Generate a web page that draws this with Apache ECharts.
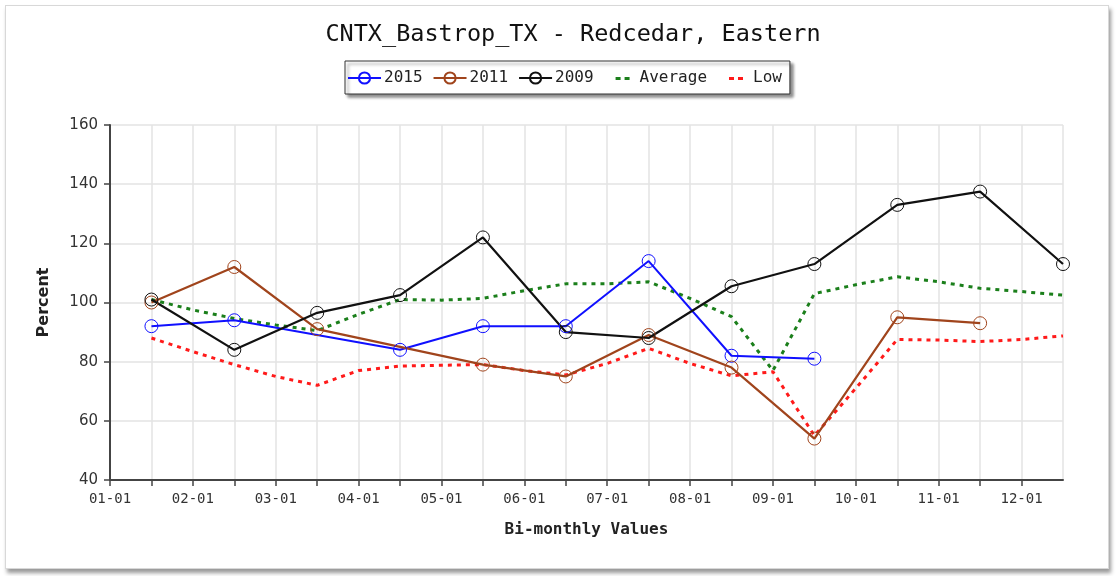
<!DOCTYPE html>
<html>
<head>
<meta charset="utf-8">
<script src="https://cdn.jsdelivr.net/npm/echarts@6/dist/echarts.min.js"></script>
<style>
  body { margin:0; background:#fff; }
  #frame { position:absolute; left:5px; top:5px; width:1102px; height:562px;
           border:1px solid #d8d8d8; box-shadow:2px 4px 4px #999; background:#fff; }
  #chart { position:absolute; left:0; top:0; width:1116px; height:576px; }
</style>
</head>
<body>
<div id="frame"></div>
<div id="chart"></div>
<script>
// tick labels on the month starts (x = 0,2,4..22 half-months)
var tickLabels = ['01-01','02-01','03-01','04-01','05-01','06-01','07-01','08-01','09-01','10-01','11-01','12-01'];

// yearly values, one per month (15th of month)
var y2015 = [92, 94, null, 84, 92, 92, 114, 82, 81, null, null, null];
var y2011 = [100, 112, 91, null, 79, 75, 89, 78, 54, 95, 93, null];
var y2009 = [101, 84, 96.5, 102.5, 122, 90, 88, 105.5, 113, 133, 137.5, 113];

// bi-monthly values, x = 1..23
var average = [101, 97.5, 94.6, 92.4, 90.5, 96, 101, 100.8, 101.4, 104, 106.3, 106.3, 107, 101.4, 95.2, 77, 103, 106, 108.7, 107, 104.8, 103.7, 102.5];
var low = [88, 83.4, 79, 75, 72, 77, 78.5, 78.8, 79, 77, 75.5, 79.4, 84.5, 79.4, 75.2, 76.6, 55, 71, 87.5, 87.3, 86.8, 87.5, 88.7];

function monthly(arr){
  var out = [];
  for (var i=0;i<arr.length;i++){
    out.push([2*i+1, arr[i]]);
  }
  return out;
}
function bimonthly(arr){
  var out = [];
  for (var i=0;i<arr.length;i++){
    out.push([i+1, arr[i]]);
  }
  return out;
}

var mono = 'DejaVu Sans Mono';
var chart = echarts.init(document.getElementById('chart'));

// two short dashes, padded to the full legend icon box
var dotsIcon = 'path://M0,0L0,0.01ZM33,14L33,14.01ZM12,6h5v3h-5zM21,6h5v3h-5z';

function yearSeries(name, color, arr, w){
  return {
    name: name,
    type: 'line',
    data: monthly(arr),
    connectNulls: true,
    symbol: 'circle',
    symbolSize: 13,
    itemStyle: { color: 'rgba(255,255,255,0)', borderColor: color, borderWidth: 1 },
    lineStyle: { color: color, width: w },
    emphasis: { disabled: true },
    z: 3
  };
}
function dotSeries(name, color, arr){
  return {
    name: name,
    type: 'line',
    data: bimonthly(arr),
    showSymbol: false,
    symbol: 'none',
    itemStyle: { color: color },
    lineStyle: { color: color, width: 3, type: [4, 5] },
    emphasis: { disabled: true },
    z: 2
  };
}

var option = {
  animation: false,
  title: {
    text: 'CNTX_Bastrop_TX - Redcedar, Eastern',
    left: 568, textAlign: 'center', top: 18,
    textStyle: { fontFamily: mono, fontSize: 23.5, fontWeight: 'normal', color: '#111' }
  },
  legend: {
    left: 345, top: 61,
    padding: [9, 8, 8, 2],
    itemWidth: 33, itemHeight: 14, itemGap: 10,
    borderColor: '#333', borderWidth: 1, backgroundColor: '#fff',
    shadowColor: 'rgba(0,0,0,0.45)', shadowBlur: 3, shadowOffsetX: 3, shadowOffsetY: 3,
    textStyle: { fontFamily: mono, fontSize: 16, color: '#222', padding: [0,0,0,-2] },
    data: ['2015','2011','2009',
      { name: 'Average', icon: dotsIcon },
      { name: 'Low', icon: dotsIcon }]
  },
  grid: { left: 110, right: 53, top: 125, bottom: 96 },
  xAxis: {
    type: 'value', min: 0, max: 23, interval: 1,
    name: 'Bi-monthly Values', nameLocation: 'middle', nameGap: 42,
    nameTextStyle: { fontFamily: mono, fontSize: 16, fontWeight: 'bold', color: '#222' },
    axisLine: { lineStyle: { color: '#444', width: 2 } },
    axisTick: { show: true, length: 6, lineStyle: { color: '#444', width: 1.5 } },
    axisLabel: {
      fontFamily: mono, fontSize: 14, color: '#333', margin: 12,
      showMaxLabel: false,
      formatter: function(v){ return (v % 2 === 0 && v/2 < tickLabels.length) ? tickLabels[v/2] : ''; }
    },
    splitLine: { show: true, lineStyle: { color: '#e3e3e3', width: 1.5 } }
  },
  yAxis: {
    type: 'value', min: 40, max: 160, interval: 20,
    name: 'Percent', nameLocation: 'middle', nameGap: 58,
    nameTextStyle: { fontFamily: 'DejaVu Sans', fontSize: 16, fontWeight: 'bold', color: '#222' },
    axisLine: { show: true, lineStyle: { color: '#444', width: 2 } },
    axisTick: { show: true, length: 6, lineStyle: { color: '#444', width: 1.5 } },
    axisLabel: { fontFamily: 'DejaVu Sans', fontSize: 15, color: '#333', margin: 12 },
    splitLine: { show: true, lineStyle: { color: '#e3e3e3', width: 1.5 } }
  },
  series: [
    dotSeries('Average', '#1b7f1b', average),
    dotSeries('Low', '#ff1a1a', low),
    yearSeries('2015', '#1010ff', y2015, 2),
    yearSeries('2011', '#a0441c', y2011, 2.2),
    yearSeries('2009', '#111', y2009, 2.2)
  ]
};
chart.setOption(option);
</script>
</body>
</html>
